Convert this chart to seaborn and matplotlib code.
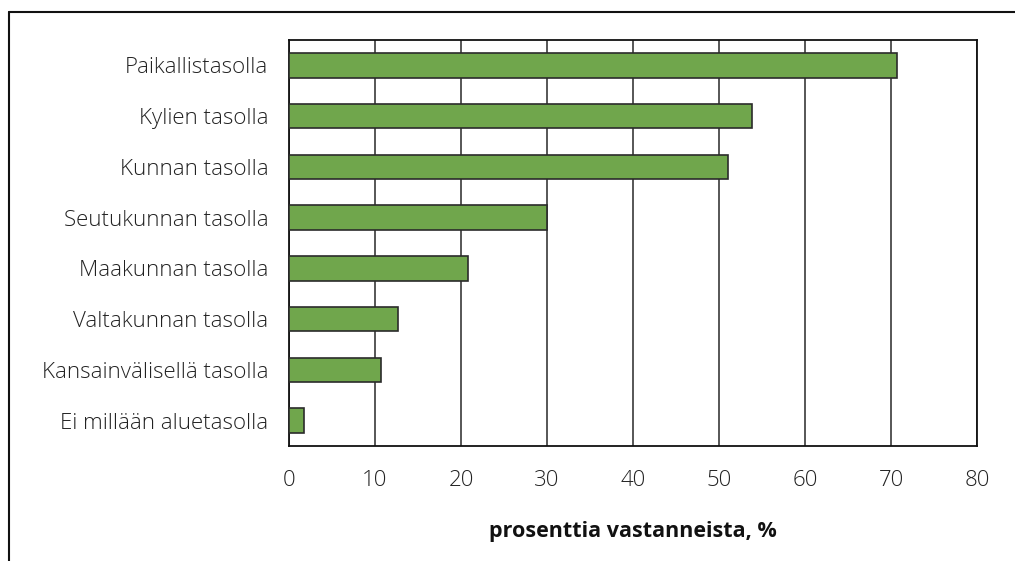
import matplotlib
matplotlib.use("Agg")
import matplotlib.pyplot as plt
from matplotlib.lines import Line2D
import seaborn as sns
import pandas as pd

categories = ["Paikallistasolla", "Kylien tasolla", "Kunnan tasolla", "Seutukunnan tasolla",
              "Maakunnan tasolla", "Valtakunnan tasolla", "Kansainvälisellä tasolla",
              "Ei millään aluetasolla"]
values = [70.7, 53.8, 51.1, 30.0, 20.8, 12.7, 10.7, 1.7]
x_ticks = [0, 10, 20, 30, 40, 50, 60, 70, 80]
x_label = "prosenttia vastanneista, %"

df = pd.DataFrame({"cat": categories, "val": values})

sns.set_style("white")
plt.rcParams["font.family"] = ["Open Sans", "DejaVu Sans"]

fig = plt.figure(figsize=(10.15, 5.61), dpi=100)
ax = fig.add_axes([289/1015, 1-446/561, (977-289)/1015, (446-40)/561])

sns.barplot(data=df, x="val", y="cat", orient="h", color="#70A64C", saturation=1,
            edgecolor="#2b2b2b", linewidth=1.2, width=0.48, ax=ax, zorder=3)

ax.set_xlim(0, 80)
ax.set_ylim(len(categories) - 0.5, -0.5)
ax.set_xticks(x_ticks)
ax.set_xticklabels([str(t) for t in x_ticks], fontsize=16, color="#222222", fontweight=300)
ax.set_yticks(range(len(categories)))
ax.set_yticklabels(categories, fontsize=16, color="#222222", fontweight=300)
ax.tick_params(axis="y", length=0, pad=15)
ax.tick_params(axis="x", length=6, width=1.2, color="#222222", direction="out", pad=11)
# minor y ticks at category boundaries
ax.set_yticks([i - 0.5 for i in range(len(categories) + 1)], minor=True)
ax.tick_params(axis="y", which="minor", length=6, width=1.0, color="#222222", direction="out")

ax.grid(axis="x", color="#3a3a3a", linewidth=1.2, zorder=0)
ax.set_axisbelow(True)
for s in ax.spines.values():
    s.set_visible(True)
    s.set_color("#111111")
    s.set_linewidth(1.3)

ax.set_ylabel("")
ax.set_xlabel(x_label, fontsize=15.5, fontweight="bold", color="#111111", labelpad=22)

# outer frame (top and left)
fig.add_artist(Line2D([9/1015, 1.0], [1-12/561, 1-12/561], color="#111111", linewidth=1.5,
                      transform=fig.transFigure))
fig.add_artist(Line2D([9/1015, 9/1015], [0, 1-12/561], color="#111111", linewidth=1.5,
                      transform=fig.transFigure))

fig.savefig("out.png", dpi=100)
